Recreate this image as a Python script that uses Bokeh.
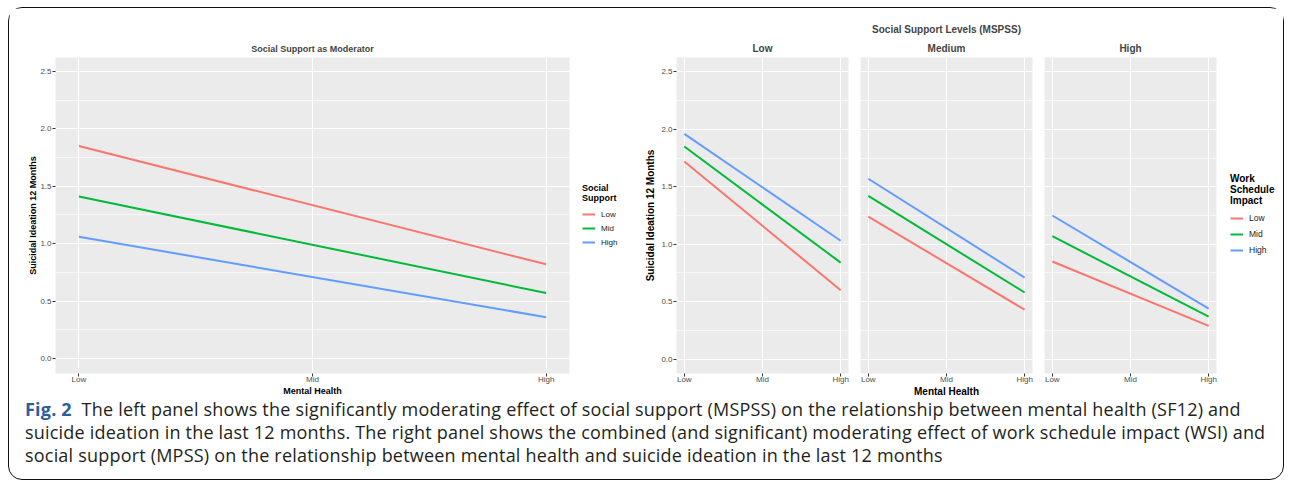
from bokeh.plotting import figure
from bokeh.models import Range1d, FixedTicker, Legend, LegendItem, Title, Div, NumeralTickFormatter
from bokeh.layouts import row, column
from bokeh.embed import file_html
from bokeh.resources import INLINE

# ---------------- data ----------------
mh_levels = ["Low", "Mid", "High"]          # Mental Health categories (x axis)
mh_points = ["Low", "High"]                 # end points of each fitted line
y_ticks = [0.0, 0.5, 1.0, 1.5, 2.0, 2.5]
y_minor = [0.25, 0.75, 1.25, 1.75, 2.25]

# Left panel: Social Support as Moderator
ss_groups = ["Low", "Mid", "High"]
ss_low = [1.85, 0.82]
ss_mid = [1.41, 0.57]
ss_high = [1.06, 0.36]

# Right panel: facets by Social Support Levels (MSPSS), lines by Work Schedule Impact
facets = ["Low", "Medium", "High"]
wsi_groups = ["Low", "Mid", "High"]
mspss_low_wsi_low = [1.72, 0.60]
mspss_low_wsi_mid = [1.85, 0.84]
mspss_low_wsi_high = [1.96, 1.03]
mspss_med_wsi_low = [1.24, 0.43]
mspss_med_wsi_mid = [1.42, 0.58]
mspss_med_wsi_high = [1.57, 0.71]
mspss_high_wsi_low = [0.85, 0.29]
mspss_high_wsi_mid = [1.07, 0.37]
mspss_high_wsi_high = [1.25, 0.44]

colors = ["#F8766D", "#00BA38", "#619CFF"]
FONT = "Liberation Sans"
H = 398
TOP = 49
BOT = 33

xs = [mh_levels.index(c) for c in mh_points]


def style_panel(p, tick_size="8px", label_size="9px", ylab_standoff=2):
    p.background_fill_color = "#EBEBEB"
    p.border_fill_color = "white"
    p.outline_line_color = None
    p.xgrid.ticker = FixedTicker(ticks=list(range(len(mh_levels))))
    p.xgrid.grid_line_color = "white"
    p.xgrid.grid_line_width = 1.1
    p.ygrid.ticker = FixedTicker(ticks=y_ticks, minor_ticks=y_minor)
    p.ygrid.grid_line_color = "white"
    p.ygrid.grid_line_width = 1.1
    p.ygrid.minor_grid_line_color = "white"
    p.ygrid.minor_grid_line_width = 0.6
    for ax in p.axis:
        ax.axis_line_color = None
        ax.major_tick_line_color = "#333333"
        ax.major_tick_out = 3
        ax.major_tick_in = 0
        ax.minor_tick_line_color = None
        ax.major_label_standoff = 1
        ax.major_label_text_color = "#4D4D4D"
        ax.major_label_text_font = FONT
        ax.major_label_text_font_size = tick_size
        ax.axis_label_text_font = FONT
        ax.axis_label_text_font_style = "bold"
        ax.axis_label_text_font_size = label_size
        ax.axis_label_text_color = "black"
    p.xaxis.major_label_standoff = -2
    p.xaxis.axis_label_standoff = -1
    p.yaxis.axis_label_standoff = ylab_standoff
    p.xaxis.ticker = FixedTicker(ticks=list(range(len(mh_levels))))
    p.xaxis.major_label_overrides = {i: lab for i, lab in enumerate(mh_levels)}
    p.yaxis.ticker = FixedTicker(ticks=y_ticks)
    p.yaxis.formatter = NumeralTickFormatter(format="0.0")


def legend_figure(width, groups, series, title, title_size, label_size, gh, loc):
    # a blank strip that only carries the legend; its lines sit outside the visible range
    lf = figure(width=width, height=H, x_range=Range1d(100, 101), y_range=Range1d(100, 101),
                output_backend="svg", toolbar_location=None, title=None,
                x_axis_location=None, y_axis_location=None,
                min_border_left=0, min_border_right=0, min_border_top=TOP, min_border_bottom=BOT)
    lf.outline_line_color = None
    lf.xgrid.visible = False
    lf.ygrid.visible = False
    lf.background_fill_color = "white"
    its = []
    for name, ys, c in zip(groups, series, colors):
        r = lf.line(xs, ys, line_color=c, line_width=2)
        its.append(LegendItem(label=name, renderers=[r]))
    leg = Legend(items=its, title=title, location=loc,
                 title_text_font=FONT, title_text_font_style="bold",
                 title_text_font_size=title_size, title_standoff=4, title_text_color="black",
                 label_text_font=FONT, label_text_font_size=label_size,
                 label_text_color="#1A1A1A", label_standoff=6,
                 glyph_width=13, glyph_height=gh, label_height=gh, spacing=0,
                 padding=1, margin=0, border_line_color=None,
                 background_fill_alpha=0)
    lf.add_layout(leg, "center")
    return lf


# ---------------- left panel ----------------
left = figure(width=566, height=H, x_range=Range1d(-0.1, 2.1), y_range=Range1d(-0.13, 2.62),
              output_backend="svg", toolbar_location=None,
              min_border_left=46, min_border_right=6, min_border_top=TOP, min_border_bottom=BOT,
              title="Social Support as Moderator")
style_panel(left, ylab_standoff=-1)
left.title.align = "center"
left.title.text_font = FONT
left.title.text_font_size = "9px"
left.title.text_font_style = "bold"
left.title.standoff = 8
left.xaxis.axis_label = "Mental Health"
left.yaxis.axis_label = "Suicidal Ideation 12 Months"

ss_series = [ss_low, ss_mid, ss_high]
for name, ys, c in zip(ss_groups, ss_series, colors):
    left.line(xs, ys, line_color=c, line_width=2)

left_legend = legend_figure(65, ss_groups, ss_series, "Social\nSupport", "9px", "8px", 14, (7, 124))

# ---------------- right panel (facets) ----------------
facet_data = [
    [mspss_low_wsi_low, mspss_low_wsi_mid, mspss_low_wsi_high],
    [mspss_med_wsi_low, mspss_med_wsi_mid, mspss_med_wsi_high],
    [mspss_high_wsi_low, mspss_high_wsi_mid, mspss_high_wsi_high],
]
widths = [214, 184, 184]
borders_l = [36, 6, 6]
yr = Range1d(-0.125, 2.625)
facet_figs = []
for k, (fname, series) in enumerate(zip(facets, facet_data)):
    outer = "Social Support Levels (MSPSS)" if k == 1 else fname
    f = figure(width=widths[k], height=H, x_range=Range1d(-0.1, 2.1), y_range=yr,
               output_backend="svg", toolbar_location=None,
               min_border_left=borders_l[k], min_border_right=6,
               min_border_top=TOP, min_border_bottom=BOT, title=outer)
    style_panel(f, tick_size="8px", label_size="10px", ylab_standoff=2)
    f.title.align = "center"
    f.title.text_font = FONT
    f.title.text_font_size = "10px"
    f.title.text_font_style = "bold"
    f.title.standoff = 7 if k != 1 else 6
    if k == 1:
        f.add_layout(Title(text=fname, align="center", text_font=FONT,
                           text_font_size="10px", text_font_style="bold", standoff=7), "above")
    for name, ys, c in zip(wsi_groups, series, colors):
        f.line(xs, ys, line_color=c, line_width=2)
    if k == 0:
        f.yaxis.axis_label = "Suicidal Ideation 12 Months"
    else:
        f.yaxis.visible = False
    if k == 1:
        f.xaxis.axis_label = "Mental Health"
    facet_figs.append(f)

right_legend = legend_figure(61, wsi_groups, facet_data[2], "Work\nSchedule\nImpact",
                             "10px", "8.5px", 16, (8, 115))

caption_html = (
    "<div style=\"font-family:'Open Sans'; font-size:18px; line-height:23px; color:#231F20; "
    "padding-left:16px; white-space:nowrap; letter-spacing:0.2px; position:relative; top:-8px\">"
    "<span style=\"font-weight:bold; color:#2C5F9A\">Fig. 2</span>&nbsp; The left panel shows the significantly "
    "moderating effect of social support (MSPSS) on the relationship between mental health (SF12) and<br>"
    "suicide ideation in the last 12 months. The right panel shows the combined (and significant) moderating "
    "effect of work schedule impact (WSI) and<br>"
    "social support (MPSS) on the relationship between mental health and suicide ideation in the last 12 months"
    "</div>"
)
caption = Div(text=caption_html, width=1274, height=73, margin=0)

layout = column(row(left, left_legend, *facet_figs, right_legend), caption,
                margin=(7, 0, 0, 8),
                styles={"border": "1.5px solid #111", "border-radius": "14px"})

open("out.html", "w").write(file_html(layout, INLINE))
